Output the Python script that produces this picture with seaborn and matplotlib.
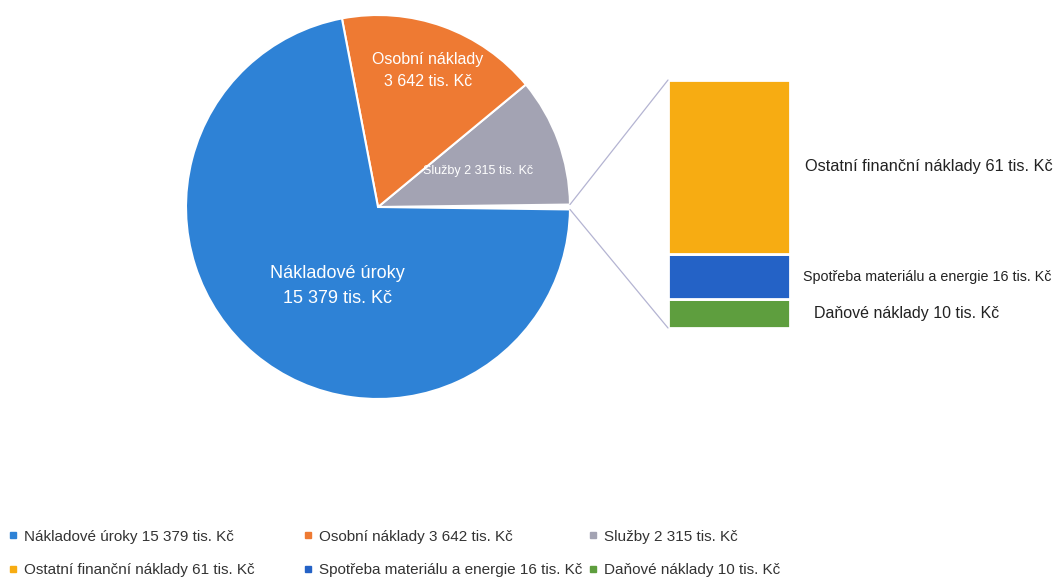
import matplotlib
matplotlib.use("Agg")

import numpy as np
import matplotlib.pyplot as plt
from matplotlib.patches import ConnectionPatch
from matplotlib.lines import Line2D
import seaborn as sns

# hlavni kolac (v tis. Kc)
pie_labels = ["Nákladové úroky", "Osobní náklady", "Služby"]
pie_values = [15379, 3642, 2315]
pie_colors = ["#2E82D6", "#EE7A33", "#A3A3B3"]

# rozpad polozky "ostatni" do sloupce
bar_labels = ["Ostatní finanční náklady", "Spotřeba materiálu a energie", "Daňové náklady"]
bar_values = [61, 16, 10]
bar_colors = ["#F7AC12", "#2462C6", "#5E9E3E"]

sns.set_theme(style="white")
plt.rcParams["font.family"] = ["Liberation Sans", "DejaVu Sans"]


def fmt(v):
    return f"{v:,}".replace(",", " ") + " tis. Kč"


fig = plt.figure(figsize=(10.58, 5.78), dpi=100)
W, H = 1058, 578

# --- kolac ---
ax_pie = fig.add_axes([186 / W, 1 - 399 / H, 384 / W, 384 / H])
other = sum(bar_values)
vals = [other, pie_values[2], pie_values[1], pie_values[0]]
cols = ["#FFFFFF", pie_colors[2], pie_colors[1], pie_colors[0]]
total = sum(vals)
half = other / total * 360 / 2
wedges, _ = ax_pie.pie(vals, colors=cols, startangle=-half, counterclock=True,
                       wedgeprops=dict(edgecolor="white", linewidth=1.5))
ax_pie.set_xlim(-1, 1)
ax_pie.set_ylim(-1, 1)
ax_pie.set_aspect("equal")
ax_pie.axis("off")

ax_pie.text(0.26, 0.71, f"{pie_labels[1]}\n{fmt(pie_values[1])}", color="white",
            ha="center", va="center", fontsize=11.5, linespacing=1.55)
ax_pie.text(0.52, 0.19, f"{pie_labels[2]} {fmt(pie_values[2])}", color="white",
            ha="center", va="center", fontsize=9)
ax_pie.text(-0.21, -0.41, f"{pie_labels[0]}\n{fmt(pie_values[0])}", color="white",
            ha="center", va="center", fontsize=13, linespacing=1.6)

# --- sloupec ---
ax_bar = fig.add_axes([668 / W, 1 - 328 / H, 122 / W, 248 / H])
bottom = 0
centers = []
for lab, v, c in zip(bar_labels[::-1], bar_values[::-1], bar_colors[::-1]):
    ax_bar.bar(0, v, bottom=bottom, width=1, color=c, edgecolor="white", linewidth=2)
    centers.append(bottom + v / 2)
    bottom += v
centers = centers[::-1]
ax_bar.set_xlim(-0.5, 0.5)
ax_bar.set_ylim(0, other)
ax_bar.axis("off")

offsets = [0.62, 0.61, 0.70]
sizes = [11.8, 10.3, 11.5]
for lab, v, y, dx, fs in zip(bar_labels, bar_values, centers, offsets, sizes):
    ax_bar.text(dx, y, f"{lab} {fmt(v)}", ha="left", va="center", fontsize=fs,
                color="#222222", clip_on=False)

# spojovaci cary
for sign, ybar in [(1, other), (-1, 0)]:
    t = np.deg2rad(sign * half)
    con = ConnectionPatch(xyA=(np.cos(t), np.sin(t)), coordsA=ax_pie.transData,
                          xyB=(-0.5, ybar), coordsB=ax_bar.transData,
                          color="#B4B4D2", linewidth=0.9)
    fig.add_artist(con)

# --- legenda (tri sloupce) ---
names = [f"{l} {fmt(v)}" for l, v in zip(pie_labels, pie_values)] + \
        [f"{l} {fmt(v)}" for l, v in zip(bar_labels, bar_values)]
colors = pie_colors + bar_colors
handles = [Line2D([], [], marker="s", linestyle="", markersize=5, color=c) for c in colors]
col_x = [7, 302, 587]
for k, x in enumerate(col_x):
    idx = [k, k + 3]
    fig.legend([handles[i] for i in idx], [names[i] for i in idx],
               loc="center left", bbox_to_anchor=(x / W, 1 - 553.5 / H), frameon=False,
               fontsize=11, handletextpad=0.3, labelspacing=1.3, handlelength=0.8,
               borderaxespad=0, borderpad=0, labelcolor="#333333")

fig.savefig("out.png", dpi=100)
